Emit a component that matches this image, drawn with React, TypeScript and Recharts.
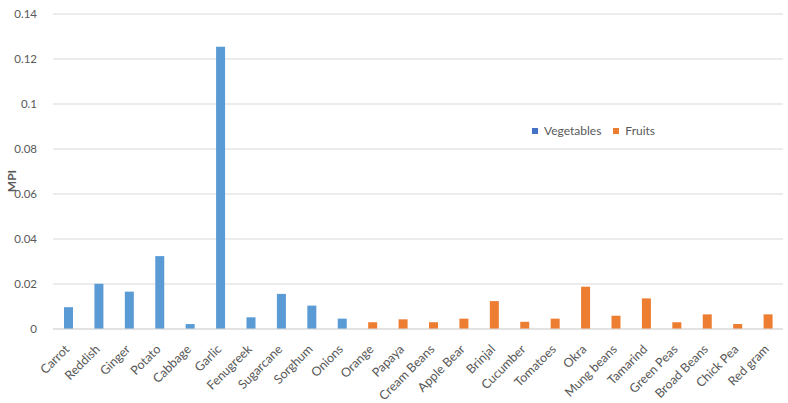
import React from "react";
import { BarChart, Bar, XAxis, YAxis, CartesianGrid, Label } from "recharts";

const categories = [
  "Carrot", "Reddish", "Ginger", "Potato", "Cabbage", "Garlic", "Fenugreek", "Sugarcane", "Sorghum", "Onions",
  "Orange", "Papaya", "Cream Beans", "Apple Bear", "Brinjal", "Cucumber", "Tomatoes", "Okra", "Mung beans",
  "Tamarind", "Green Peas", "Broad Beans", "Chick Pea", "Red gram",
];
const vegetables: (number | null)[] = [
  0.0097, 0.0201, 0.0166, 0.0324, 0.0022, 0.1255, 0.0052, 0.0156, 0.0104, 0.0046,
  null, null, null, null, null, null, null, null, null, null, null, null, null, null,
];
const fruits: (number | null)[] = [
  null, null, null, null, null, null, null, null, null, null,
  0.003, 0.0043, 0.003, 0.0046, 0.0124, 0.0032, 0.0046, 0.0188, 0.0059, 0.0136, 0.003, 0.0065, 0.0022, 0.0065,
];
const yTicks = [0, 0.02, 0.04, 0.06, 0.08, 0.1, 0.12, 0.14];
const seriesNames = ["Vegetables", "Fruits"];

const data = categories.map((name, i) => ({ name, vegetables: vegetables[i], fruits: fruits[i] }));

const FONT = "Lato, 'Open Sans', sans-serif";
const TXT = "#595959";

const XTick = (props: any) => {
  const { x, y, payload } = props;
  return (
    <g transform={`translate(${x + 2},${y + 13})`}>
      <text x={0} y={0} textAnchor="end" transform="rotate(-45)" fill={TXT} fontSize={12.5} fontFamily={FONT}>
        {payload.value}
      </text>
    </g>
  );
};

const fmt = (v: number) => (v === 0 ? "0" : String(Number(v.toFixed(2))));

const YLabel = () => (
  <text
    x={11}
    y={181}
    transform="rotate(-90, 11, 181)"
    textAnchor="middle"
    dominantBaseline="central"
    fill={TXT}
    fontWeight="bold"
    fontSize={12}
    fontFamily={FONT}
  >
    MPI
  </text>
);

export default function App() {
  return (
    <div style={{ position: "absolute", left: 0, top: 0, width: 788, height: 403, background: "#fff" }}>
      <BarChart width={788} height={403} data={data} margin={{ top: 14, right: 5, bottom: 0, left: 0 }} barCategoryGap="0%">
        <CartesianGrid vertical={false} stroke="#d9d9d9" />
        <XAxis
          dataKey="name"
          interval={0}
          height={74}
          tickLine={false}
          axisLine={{ stroke: "#d9d9d9" }}
          tick={<XTick />}
        />
        <YAxis
          width={53}
          domain={[0, 0.14]}
          ticks={yTicks}
          tickFormatter={fmt}
          tickLine={false}
          axisLine={false}
          tick={{ fill: TXT, fontSize: 11.5, fontFamily: FONT }}
          tickMargin={10}
        >
          <Label content={<YLabel />} />
        </YAxis>
        <Bar dataKey="vegetables" name={seriesNames[0]} stackId="a" fill="#5B9BD5" barSize={9} isAnimationActive={false} />
        <Bar dataKey="fruits" name={seriesNames[1]} stackId="a" fill="#ED7D31" barSize={9} isAnimationActive={false} />
      </BarChart>
      <div
        style={{
          position: "absolute",
          left: 532,
          top: 123,
          display: "flex",
          alignItems: "center",
          fontFamily: FONT,
          fontSize: 12,
          color: TXT,
          whiteSpace: "nowrap",
        }}
      >
        <span style={{ width: 6, height: 6, background: "#4472C4", display: "inline-block", marginRight: 6 }} />
        <span style={{ marginRight: 12 }}>{seriesNames[0]}</span>
        <span style={{ width: 6, height: 6, background: "#ED7D31", display: "inline-block", marginRight: 6 }} />
        <span>{seriesNames[1]}</span>
      </div>
    </div>
  );
}
